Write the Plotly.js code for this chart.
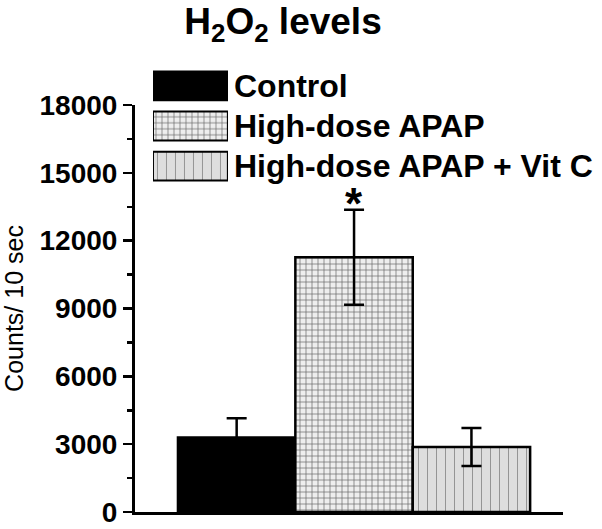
<!DOCTYPE html>
<html>
<head>
<meta charset="utf-8">
<script src="https://cdn.plot.ly/plotly-3.0.1.min.js"></script>
<style>
  html, body { margin: 0; padding: 0; background: #fff; }
  #chart { width: 602px; height: 529px; }
</style>
</head>
<body>
<div id="chart"></div>
<script>
  const categories = ['Control', 'High-dose APAP', 'High-dose APAP + Vit C'];
  const means = [3300, 11270, 2875];
  const errors = [850, 2100, 840];
  const significant = [false, true, false];
  const yTickValues = [0, 3000, 6000, 9000, 12000, 15000, 18000];

  const FONT = 'Liberation Sans, Arial, sans-serif';
  const styles = [
    { color: '#000000', pattern: { shape: '' } },
    { color: '#eeeeee', pattern: { shape: '+', fgcolor: '#666666', bgcolor: '#eeeeee', size: 6, solidity: 0.22 } },
    { color: '#dedede', pattern: { shape: '|', fgcolor: '#8c8c8c', bgcolor: '#dedede', size: 9, solidity: 0.1 } }
  ];

  // main bars, one trace per group so each gets its own fill
  const barTraces = categories.map((name, i) => ({
    type: 'bar',
    x: [name],
    y: [means[i]],
    width: [1],
    marker: {
      color: styles[i].color,
      pattern: styles[i].pattern,
      line: { color: '#000', width: 2.5 }
    },
    error_y: {
      type: 'data',
      array: [errors[i]],
      visible: true,
      color: '#000',
      thickness: 2.5,
      width: 10
    },
    showlegend: false,
    hoverinfo: 'skip'
  }));

  // legend swatches drawn as bars on a small helper subplot
  const swatchTraces = categories.map((name, i) => ({
    type: 'bar',
    orientation: 'h',
    x: [1],
    y: [i],
    width: [0.72],
    xaxis: 'x2',
    yaxis: 'y2',
    marker: {
      color: styles[i].color,
      pattern: styles[i].pattern,
      line: { color: '#000', width: 2 }
    },
    showlegend: false,
    hoverinfo: 'skip'
  }));

  const legendLabels = categories.map((name, i) => ({
    xref: 'paper',
    yref: 'y2',
    x: 0.227,
    y: i,
    xanchor: 'left',
    yanchor: 'middle',
    text: name,
    showarrow: false,
    font: { family: FONT, size: 32, weight: 'bold', color: '#000' }
  }));

  const starLabels = [];
  categories.forEach((name, i) => {
    if (!significant[i]) return;
    starLabels.push({
      xref: 'x',
      yref: 'y',
      x: name,
      y: means[i] + errors[i],
      yanchor: 'bottom',
      yshift: -20,
      text: '*',
      showarrow: false,
      font: { family: FONT, size: 44, weight: 'bold', color: '#000' }
    });
  });

  const layout = {
    width: 602,
    height: 529,
    margin: { l: 135, r: 39, t: 60, b: 17 },
    paper_bgcolor: '#fff',
    plot_bgcolor: '#fff',
    barmode: 'overlay',
    bargap: 0,
    showlegend: false,
    title: {
      text: 'H<sub>2</sub>O<sub>2</sub> levels',
      font: { family: FONT, size: 37, weight: 'bold', color: '#000' },
      xref: 'container',
      x: 283 / 602,
      xanchor: 'center',
      yref: 'container',
      y: 1 - 21 / 529,
      yanchor: 'middle'
    },
    xaxis: {
      type: 'category',
      range: [-0.866, 2.78],
      showline: true,
      linecolor: '#000',
      linewidth: 3,
      showticklabels: false,
      ticks: '',
      showgrid: false,
      zeroline: false,
      fixedrange: true
    },
    yaxis: {
      domain: [0, 0.9004],
      range: [0, 18000],
      tickvals: yTickValues,
      ticktext: yTickValues.map(v => String(v)),
      ticks: 'outside',
      ticklen: 9,
      tickwidth: 2.5,
      tickcolor: '#000',
      minor: { dtick: 1500, ticks: 'outside', ticklen: 5, tickwidth: 2.5, tickcolor: '#000' },
      tickfont: { family: FONT, size: 28, weight: 'bold', color: '#000' },
      showline: true,
      linecolor: '#000',
      linewidth: 3,
      showgrid: false,
      zeroline: false,
      fixedrange: true,
      title: {
        text: 'Counts/ 10 sec',
        font: { family: FONT, size: 25, color: '#000' },
        standoff: 10
      }
    },
    xaxis2: {
      domain: [0.042, 0.217],
      range: [0, 1],
      anchor: 'y2',
      visible: false,
      fixedrange: true
    },
    yaxis2: {
      domain: [0.721, 0.987],
      range: [2.5, -0.5],
      anchor: 'x2',
      visible: false,
      fixedrange: true
    },
    annotations: legendLabels.concat(starLabels)
  };

  Plotly.newPlot('chart', barTraces.concat(swatchTraces), layout, {
    displayModeBar: false,
    staticPlot: true
  });
</script>
</body>
</html>
